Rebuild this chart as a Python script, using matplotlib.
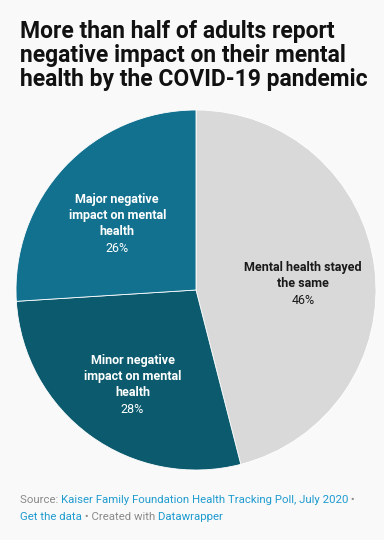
import matplotlib.pyplot as plt
import numpy as np

labels = ['Mental health stayed\nthe same', 'Minor negative\nimpact on mental\nhealth', 'Major negative\nimpact on mental\nhealth']
values = [46, 28, 26]
colors = ['#d9d9d9', '#0b5a6d', '#12718f']
text_colors = ['#1a1a1a', 'white', 'white']

title = 'More than half of adults report\nnegative impact on their mental\nhealth by the COVID-19 pandemic'
footer = [
    [('Source: ', '#8a8a8a'), ('Kaiser Family Foundation Health Tracking Poll, July 2020', '#1f9bcf'), (' \u2022', '#8a8a8a')],
    [('Get the data', '#1f9bcf'), (' \u2022 Created with', '#8a8a8a'), (' Datawrapper', '#1f9bcf')],
]

plt.rcParams['font.family'] = ['Roboto', 'DejaVu Sans']

fig = plt.figure(figsize=(3.84, 5.4), dpi=100)
fig.patch.set_facecolor('#f9f9f9')

ax = fig.add_axes([16 / 384, 70 / 540, 360 / 384, 360 / 540])
wedges, _ = ax.pie(values, colors=colors, startangle=90, counterclock=False, radius=1,
                   wedgeprops=dict(edgecolor='white', linewidth=0.6))
ax.set_xlim(-1, 1)
ax.set_ylim(-1, 1)
ax.set_aspect('equal')
ax.axis('off')

lh = 16  # line height in pixels
for w, lab, v, tc in zip(wedges, labels, values, text_colors):
    mid = np.deg2rad((w.theta1 + w.theta2) / 2)
    x, y = 0.6 * np.cos(mid), 0.6 * np.sin(mid)
    n = lab.count('\n') + 1
    top = (n + 1) * lh / 2 - 9
    ax.annotate(lab, (x, y), xytext=(0, top), textcoords='offset pixels', ha='center', va='top',
                color=tc, fontsize=9, fontweight='bold', linespacing=1.3)
    ax.annotate(f'{v}%', (x, y), xytext=(0, top - n * lh - 1), textcoords='offset pixels',
                ha='center', va='top', color=tc, fontsize=9)

fig.text(20 / 384, 1 - 20 / 540, title, ha='left', va='top', fontsize=16.5, fontweight='bold',
         color='#111111', linespacing=1.05)

# footer with mixed colours
fig.canvas.draw()
r = fig.canvas.get_renderer()
ys = [1 - 500 / 540, 1 - 517 / 540]
for line, yy in zip(footer, ys):
    xx = 20 / 384
    for s, c in line:
        t = fig.text(xx, yy, s, ha='left', va='center', fontsize=8.2, color=c)
        bb = t.get_window_extent(renderer=r)
        xx += bb.width / fig.bbox.width

fig.savefig('out.png', dpi=100, facecolor=fig.get_facecolor())
